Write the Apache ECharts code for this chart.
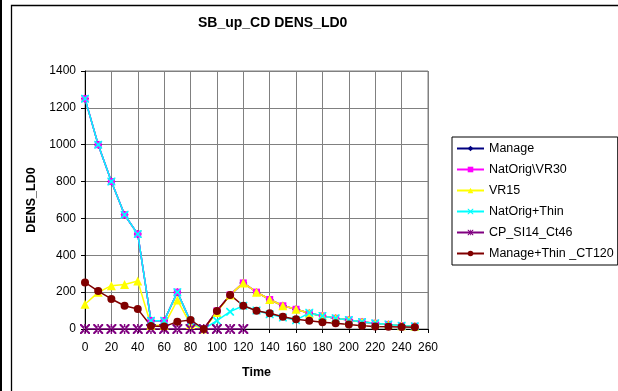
<!DOCTYPE html>
<html>
<head>
<meta charset="utf-8">
<script src="https://cdn.jsdelivr.net/npm/echarts@6/dist/echarts.min.js"></script>
<style>html,body{margin:0;padding:0;background:#fff}#c{width:618px;height:391px}</style>
</head>
<body>
<div id="c"></div>
<script>
var time = [0,10,20,30,40,50,60,70,80,90,100,110,120,130,140,150,160,170,180,190,200,210,220,230,240,250];
var manage       = [1250,1000,800,620,515,45,45,200,40,0,98,185,250,200,160,126,107,85,71,58,49,38,31,25,18,15];
var natOrigVR30  = [1250,1000,800,620,515,45,45,200,40,0,98,185,250,200,160,126,107,85,71,58,49,38,31,25,18,15];
var vr15         = [134,199,235,242,260,20,20,157,25,0,90,185,250,200,160,126,107,85,71,58,49,38,31,25,18,15];
var natOrigThin  = [1250,1000,800,620,515,45,45,200,40,0,45,94,126,100,80,63,48,88,71,58,49,38,31,25,18,15];
var cpSI14Ct46   = [0,0,0,0,0,0,0,0,0,0,0,0,0,null,null,null,null,null,null,null,null,null,null,null,null,null];
var manageThin   = [253,206,163,126,108,16,13,40,49,0,98,185,126,99,85,67,53,45,36,31,25,18,13,12,11,9];
var seriesNames = ['Manage','NatOrig\\VR30','VR15','NatOrig+Thin','CP_SI14_Ct46','Manage+Thin _CT120'];
var yTicks = {min:0, max:1400, interval:200};
var xTicks = {min:0, max:260, interval:20};

function pairs(vals){ return time.map(function(t,i){ return [t, vals[i]]; }); }

var crossPath = 'path://M0,0 L1.5,0 L5,3.5 L8.5,0 L10,0 L10,1.5 L6.5,5 L10,8.5 L10,10 L8.5,10 L5,6.5 L1.5,10 L0,10 L0,8.5 L3.5,5 L0,1.5 Z';
var starPath = 'path://M0,0 L1.5,0 L5,3.5 L8.5,0 L10,0 L10,1.5 L6.5,5 L10,8.5 L10,10 L8.5,10 L5,6.5 L1.5,10 L0,10 L0,8.5 L3.5,5 L0,1.5 Z M4.3,0 L4.3,10 L5.7,10 L5.7,0 Z';

var styles = [
  {color:'#000080', symbol:'diamond', size:8},
  {color:'#FF00FF', symbol:'rect', size:7},
  {color:'#FFFF00', symbol:'triangle', size:9},
  {color:'#00FFFF', symbol:crossPath, size:8},
  {color:'#800080', symbol:starPath, size:10},
  {color:'#800000', symbol:'circle', size:8}
];
var datas = [manage, natOrigVR30, vr15, natOrigThin, cpSI14Ct46, manageThin];

var series = datas.map(function(d,i){
  var s = styles[i];
  return {
    name: seriesNames[i], type:'line', data: pairs(d),
    symbol: s.symbol, symbolSize: s.size, showSymbol:true,
    lineStyle:{color:s.color, width:1.5},
    itemStyle:{color:s.color, borderWidth:0},
    emphasis:{disabled:true}
  };
});

var font = 'Arial, "Liberation Sans", sans-serif';
var chart = echarts.init(document.getElementById('c'), null, {renderer:'canvas'});
chart.setOption({
  animation:false,
  backgroundColor:'#fff',
  textStyle:{fontFamily:font},
  title:{text:'SB_up_CD DENS_LD0', left:193, top:11,
    textStyle:{fontFamily:font, fontSize:14, fontWeight:'bold', color:'#000'}},
  grid:{left:85, right:190, top:71, bottom:62, show:true, borderColor:'#808080', borderWidth:1},
  legend:{orient:'vertical', left:452, top:137, borderColor:'#000', borderWidth:1,
    padding:[5,4,5,4], itemGap:8, itemWidth:27, itemHeight:7,
    textStyle:{fontFamily:font, fontSize:12.5, color:'#000'},
    data: seriesNames},
  xAxis:{type:'value', min:xTicks.min, max:xTicks.max, interval:xTicks.interval,
    name:'Time', nameLocation:'middle', nameGap:37,
    nameTextStyle:{fontFamily:font, fontSize:12.5, fontWeight:'bold', color:'#000'},
    axisLine:{show:true, lineStyle:{color:'#000', width:1}},
    axisTick:{show:true, length:4, lineStyle:{color:'#000'}},
    axisLabel:{margin:13, fontFamily:font, fontSize:12, color:'#000'},
    splitLine:{show:true, lineStyle:{color:'#808080', width:1}}},
  yAxis:{type:'value', min:yTicks.min, max:yTicks.max, interval:yTicks.interval,
    name:'DENS_LD0', nameLocation:'middle', nameGap:42,
    nameTextStyle:{fontFamily:font, fontSize:12.5, fontWeight:'bold', color:'#000'},
    axisLine:{show:true, lineStyle:{color:'#000', width:1}},
    axisTick:{show:true, length:4, lineStyle:{color:'#000'}},
    axisLabel:{margin:9, fontFamily:font, fontSize:12, color:'#000', formatter:function(v){return String(v);}},
    splitLine:{show:true, lineStyle:{color:'#808080', width:1}}},
  graphic:[
    {type:'rect', shape:{x:0, y:0, width:2, height:391}, style:{fill:'#000'}, silent:true},
    {type:'polyline', shape:{points:[[11.5,391],[11.5,5.5],[618,5.5]]}, style:{stroke:'#000', lineWidth:1.3, fill:null}, silent:true}
  ],
  series: series
});
</script>
</body>
</html>
